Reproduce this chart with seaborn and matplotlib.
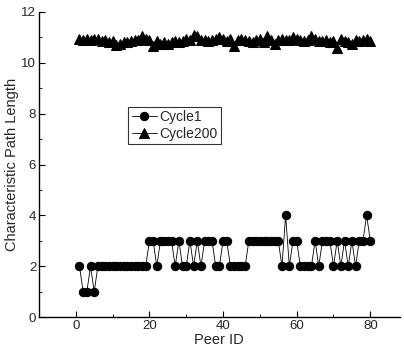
import matplotlib
matplotlib.use('Agg')
import matplotlib.pyplot as plt
import pandas as pd
import seaborn as sns

# Peer ids 1..80
peer_ids = list(range(1, 81))

# Cycle 1 characteristic path length per peer
cycle1 = [2, 1, 1, 2, 1, 2, 2, 2, 2, 2,
          2, 2, 2, 2, 2, 2, 2, 2, 2, 3,
          3, 2, 3, 3, 3, 3, 2, 3, 2, 2,
          3, 2, 3, 2, 3, 3, 3, 2, 2, 3,
          3, 2, 2, 2, 2, 2, 3, 3, 3, 3,
          3, 3, 3, 3, 3, 2, 4, 2, 3, 3,
          2, 2, 2, 2, 3, 2, 3, 3, 3, 2,
          3, 2, 3, 2, 3, 2, 3, 3, 4, 3]

# Cycle 200 characteristic path length per peer
cycle200 = [10.95, 10.9, 10.95, 10.9, 10.95, 10.95, 10.85, 10.9, 10.8, 10.85,
            10.7, 10.75, 10.8, 10.8, 10.85, 10.9, 10.9, 11.05, 10.95, 10.9,
            10.65, 10.85, 10.75, 10.8, 10.75, 10.8, 10.85, 10.8, 10.85, 10.95,
            10.9, 11.1, 11.05, 10.9, 10.9, 10.85, 10.9, 10.95, 11.0, 10.95,
            10.85, 10.95, 10.65, 10.9, 10.95, 10.9, 10.85, 10.8, 10.9, 10.95,
            10.8, 11.05, 10.9, 10.75, 10.9, 10.95, 10.9, 10.9, 11.0, 10.95,
            10.9, 10.85, 10.9, 11.05, 10.95, 10.85, 10.85, 10.9, 10.8, 10.85,
            10.6, 10.95, 10.85, 10.8, 10.75, 10.9, 10.85, 10.9, 10.95, 10.85]

x_ticks = [0, 20, 40, 60, 80]
y_ticks = [0, 2, 4, 6, 8, 10, 12]

df = pd.DataFrame({'peer': peer_ids, 'Cycle1': cycle1, 'Cycle200': cycle200})

sns.set_style('ticks')
plt.rcParams['font.family'] = ['Liberation Sans', 'DejaVu Sans']

fig = plt.figure(figsize=(4.04, 3.5), dpi=100)
ax = fig.add_axes([0.0965, 0.094, 0.893, 0.872])

sns.lineplot(data=df, x='peer', y='Cycle1', ax=ax, color='black', lw=0.6,
             marker='o', markersize=6, markeredgecolor='black', label='Cycle1')
sns.lineplot(data=df, x='peer', y='Cycle200', ax=ax, color='black', lw=0.6,
             marker='^', markersize=6.5, markeredgecolor='black', label='Cycle200')

ax.set_xlim(-10, 88)
ax.set_ylim(0, 12)
ax.set_xticks(x_ticks)
ax.set_yticks(y_ticks)
ax.set_xticks([10, 30, 50, 70], minor=True)
ax.set_yticks([1, 3, 5, 7, 9, 11], minor=True)
ax.tick_params(which='both', direction='in', color='black', labelsize=9.5, pad=2)
ax.tick_params(which='major', length=4)
ax.tick_params(which='minor', length=2.5)
sns.despine(ax=ax)
for s in ['left', 'bottom']:
    ax.spines[s].set_color('black')
    ax.spines[s].set_linewidth(1.0)

ax.set_xlabel('Peer ID', fontsize=10.5, labelpad=1)
ax.set_ylabel('Characteristic Path Length', fontsize=10.5, labelpad=2)

leg = ax.legend(loc='upper left', bbox_to_anchor=(0.247, 0.69), fontsize=10,
                handlelength=1.8, handletextpad=0.2, borderpad=0.25,
                labelspacing=0.2, borderaxespad=0, fancybox=False)
leg.get_frame().set_edgecolor('black')
leg.get_frame().set_linewidth(0.8)

fig.savefig('out.png', dpi=100)
